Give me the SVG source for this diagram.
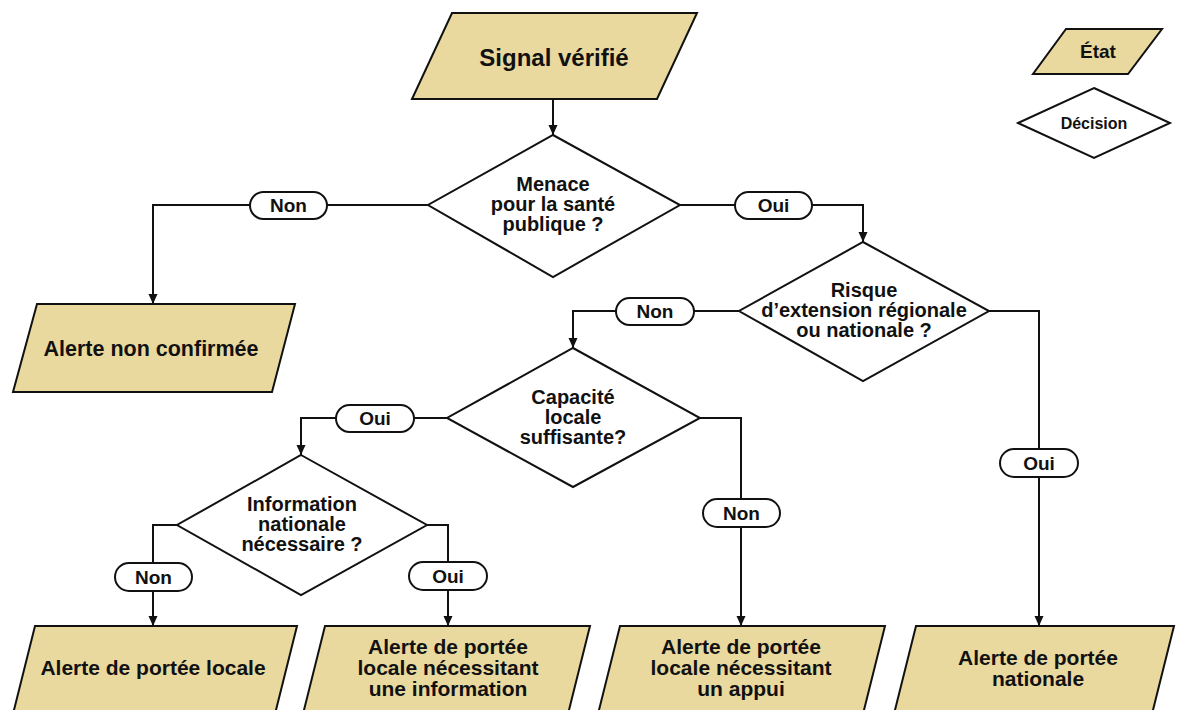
<svg xmlns="http://www.w3.org/2000/svg" width="1180" height="710" viewBox="0 0 1180 710">
<defs>
<style>
.state{fill:#E9D99F;stroke:#111;stroke-width:2;stroke-linejoin:miter}
.dec{fill:#fff;stroke:#111;stroke-width:2}
.pill{fill:#fff;stroke:#111;stroke-width:2}
.ln{fill:none;stroke:#111;stroke-width:2}
.t{font-family:"Liberation Sans",Arial,sans-serif;font-weight:bold;fill:#111;text-anchor:middle}
.dt{font-size:20px}
.st{font-size:21px}
.pt{font-size:19px}
</style>
<marker id="ah" viewBox="0 0 10 10" refX="10" refY="5" markerWidth="10" markerHeight="10" markerUnits="userSpaceOnUse" orient="auto">
<path d="M0,0.5 L10,5 L0,9.5 z" fill="#111"/>
</marker>
</defs>
<rect width="1180" height="710" fill="#fff"/>

<g id="connectors">
<path class="ln" d="M553,99 V135" marker-end="url(#ah)"/>
<path class="ln" d="M428,205 H327 M250,205 H153 V304" marker-end="url(#ah)"/>
<path class="ln" d="M680,205 H735 M812,205 H863 V242" marker-end="url(#ah)"/>
<path class="ln" d="M739,311 H694 M616,311 H573 V348" marker-end="url(#ah)"/>
<path class="ln" d="M989,311 H1039 V449 M1039,477 V626" marker-end="url(#ah)"/>
<path class="ln" d="M447,418 H414 M336,418 H301 V455" marker-end="url(#ah)"/>
<path class="ln" d="M700,418 H741 V499 M741,527 V626" marker-end="url(#ah)"/>
<path class="ln" d="M177,525 H153 V563 M153,591 V626" marker-end="url(#ah)"/>
<path class="ln" d="M427,525 H448 V562 M448,590 V626" marker-end="url(#ah)"/>
</g>

<g id="signal">
<polygon class="state" points="452,13 697,13 657,99 412,99"/>
<text class="t" x="554" y="66" font-size="24">Signal vérifié</text>
</g>

<g id="legend-etat">
<polygon class="state" points="1066,29 1162,29 1128,74 1033,74"/>
<text class="t" x="1098" y="58" font-size="19">État</text>
</g>
<g id="legend-decision">
<polygon class="dec" points="1094,88 1170,123 1094,158 1018,123"/>
<text class="t" x="1094" y="129" font-size="16">Décision</text>
</g>

<g id="d1">
<polygon class="dec" points="553,135 680,205 553,277 428,205"/>
<text class="t dt" x="553" y="191">Menace</text>
<text class="t dt" x="553" y="211">pour la santé</text>
<text class="t dt" x="553" y="231">publique ?</text>
</g>
<g id="d1-non"><rect class="pill" x="250" y="192" width="77" height="27" rx="13.5"/><text class="t pt" x="288.5" y="212">Non</text></g>
<g id="d1-oui"><rect class="pill" x="735" y="192" width="77" height="27" rx="13.5"/><text class="t pt" x="773.5" y="212">Oui</text></g>

<g id="alerte-non-confirmee">
<polygon class="state" points="37,304 295,304 272,392 13,392"/>
<text class="t" x="151" y="356" font-size="21.5">Alerte non confirmée</text>
</g>

<g id="d2">
<polygon class="dec" points="863,242 989,311 863,381 739,311"/>
<text class="t dt" x="864" y="297">Risque</text>
<text class="t dt" x="864" y="317">d’extension régionale</text>
<text class="t dt" x="864" y="337">ou nationale ?</text>
</g>
<g id="d2-non"><rect class="pill" x="616" y="298" width="78" height="27" rx="13.5"/><text class="t pt" x="655" y="318">Non</text></g>
<g id="d2-oui"><rect class="pill" x="1000" y="449" width="78" height="28" rx="14"/><text class="t pt" x="1039" y="470">Oui</text></g>

<g id="d3">
<polygon class="dec" points="573,348 700,418 573,487 447,418"/>
<text class="t dt" x="573" y="404">Capacité</text>
<text class="t dt" x="573" y="424">locale</text>
<text class="t dt" x="573" y="444">suffisante?</text>
</g>
<g id="d3-oui"><rect class="pill" x="336" y="405" width="78" height="27" rx="13.5"/><text class="t pt" x="375" y="425">Oui</text></g>
<g id="d3-non"><rect class="pill" x="703" y="499" width="77" height="28" rx="14"/><text class="t pt" x="741.5" y="520">Non</text></g>

<g id="d4">
<polygon class="dec" points="301,455 427,525 301,595 177,525"/>
<text class="t dt" x="302" y="511">Information</text>
<text class="t dt" x="302" y="531">nationale</text>
<text class="t dt" x="302" y="551">nécessaire ?</text>
</g>
<g id="d4-non"><rect class="pill" x="115" y="563" width="77" height="28" rx="14"/><text class="t pt" x="153.5" y="584">Non</text></g>
<g id="d4-oui"><rect class="pill" x="409" y="562" width="78" height="28" rx="14"/><text class="t pt" x="448" y="583">Oui</text></g>

<g id="alerte-locale">
<polygon class="state" points="35,626 297,626 273.5,720 11.5,720"/>
<text class="t st" x="153" y="675">Alerte de portée locale</text>
</g>
<g id="alerte-locale-information">
<polygon class="state" points="325,626 590,626 566.5,720 301.5,720"/>
<text class="t st" x="448" y="654">Alerte de portée</text>
<text class="t st" x="448" y="675">locale nécessitant</text>
<text class="t st" x="448" y="696">une information</text>
</g>
<g id="alerte-locale-appui">
<polygon class="state" points="620,626 885,626 861.5,720 596.5,720"/>
<text class="t st" x="741" y="654">Alerte de portée</text>
<text class="t st" x="741" y="675">locale nécessitant</text>
<text class="t st" x="741" y="696">un appui</text>
</g>
<g id="alerte-nationale">
<polygon class="state" points="916,626 1174,626 1150.5,720 892.5,720"/>
<text class="t st" x="1038" y="665">Alerte de portée</text>
<text class="t st" x="1038" y="686">nationale</text>
</g>
</svg>
